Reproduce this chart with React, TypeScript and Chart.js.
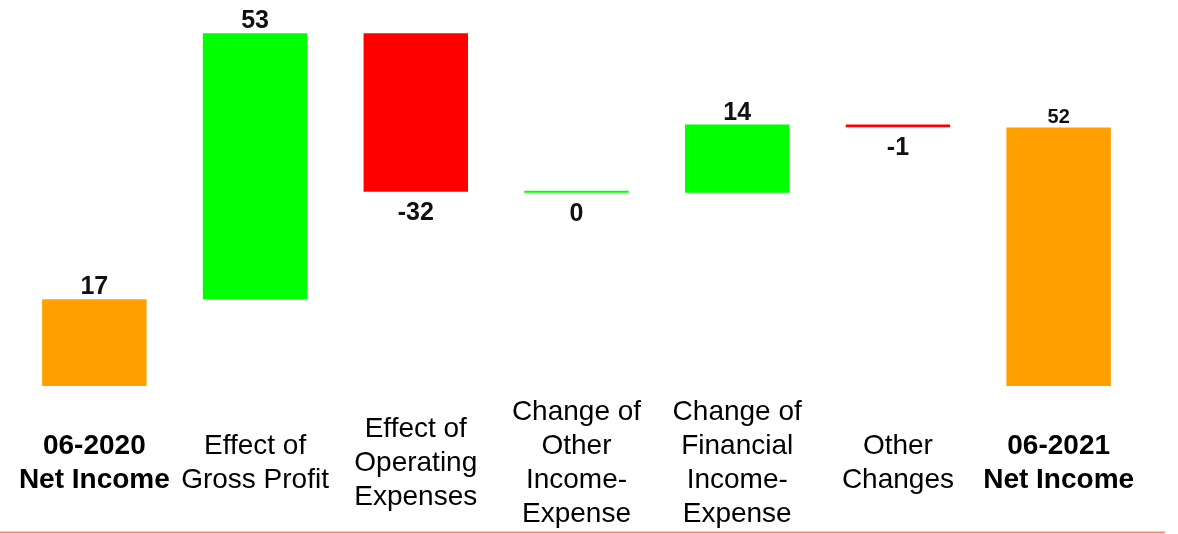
import React, { useEffect, useRef } from "react";
import { Chart, registerables } from "chart.js";

Chart.register(...registerables);

// Category captions (one entry per line of text)
const categories: string[][] = [
  ["06-2020", "Net Income"],
  ["Effect of", "Gross Profit"],
  ["Effect of", "Operating", "Expenses"],
  ["Change of", "Other", "Income-", "Expense"],
  ["Change of", "Financial", "Income-", "Expense"],
  ["Other", "Changes"],
  ["06-2021", "Net Income"],
];

// Net income bridge values
const openingNetIncome = 17.4;
const changes = [53.4, -31.8, -0.2, 13.7, -0.55];
const closingNetIncome = 51.9;

const yMin = 0;
const yMax = 77.5;

const TOTAL_COLOR = "#FFA000";
const UP_COLOR = "#00FF00";
const DOWN_COLOR = "#FF0000";
const FONT = "'Liberation Sans', Arial, Helvetica, sans-serif";

// Floating ranges for each bar, built from the running total
const ranges: [number, number][] = [];
const displayValues: number[] = [];
const kinds: ("total" | "up" | "down")[] = [];
{
  ranges.push([0, openingNetIncome]);
  displayValues.push(openingNetIncome);
  kinds.push("total");
  let running = openingNetIncome;
  for (const c of changes) {
    ranges.push([running, running + c]);
    displayValues.push(c);
    kinds.push(Math.round(c) >= 0 ? "up" : "down");
    running += c;
  }
  ranges.push([0, closingNetIncome]);
  displayValues.push(closingNetIncome);
  kinds.push("total");
}

const barColors = kinds.map((k) =>
  k === "total" ? TOTAL_COLOR : k === "up" ? UP_COLOR : DOWN_COLOR
);

const formatValue = (v: number) => {
  const r = Math.round(v);
  return (r === 0 ? 0 : r).toString();
};

// Value labels above rising/total bars, below falling/flat ones
const valueLabels = {
  id: "valueLabels",
  afterDatasetsDraw(chart: any) {
    const ctx = chart.ctx as CanvasRenderingContext2D;
    const meta = chart.getDatasetMeta(0);
    ctx.save();
    ctx.fillStyle = "#111";
    ctx.textAlign = "center";
    ctx.textBaseline = "alphabetic";
    meta.data.forEach((bar: any, i: number) => {
      const { x, y, base } = bar.getProps(["x", "y", "base"], true);
      const top = Math.min(y, base);
      const bottom = Math.max(y, base);
      const isClosing = i === meta.data.length - 1;
      const size = isClosing ? 20 : 25;
      ctx.font = `bold ${size}px ${FONT}`;
      const text = formatValue(displayValues[i]);
      const above = kinds[i] === "total" || Math.round(displayValues[i]) > 0;
      if (above) {
        ctx.fillText(text, x, top - 5);
      } else {
        ctx.fillText(text, x, bottom + 10 + size * 0.72);
      }
    });
    ctx.restore();
  },
};

// Category captions centred under each bar
const categoryCaptions = {
  id: "categoryCaptions",
  afterDraw(chart: any) {
    const ctx = chart.ctx as CanvasRenderingContext2D;
    const xScale = chart.scales.x;
    const centerY = 463;
    const lineHeight = 34;
    ctx.save();
    ctx.fillStyle = "#000";
    ctx.textAlign = "center";
    ctx.textBaseline = "middle";
    categories.forEach((lines, i) => {
      const x = xScale.getPixelForValue(i);
      const bold = kinds[i] === "total";
      ctx.font = `${bold ? "bold " : ""}28px ${FONT}`;
      lines.forEach((line, j) => {
        const yy = centerY + (j - (lines.length - 1) / 2) * lineHeight;
        ctx.fillText(line, x, yy);
      });
    });
    // bottom rule
    ctx.fillStyle = "#E8907A";
    ctx.fillRect(0, 531.5, 1165, 2);
    ctx.restore();
  },
};

export default function App() {
  const canvasRef = useRef<HTMLCanvasElement | null>(null);

  useEffect(() => {
    document.body.style.margin = "0";
    const canvas = canvasRef.current;
    if (!canvas) return;
    const chart = new Chart(canvas, {
      type: "bar",
      data: {
        labels: categories.map((c) => c.join(" ")),
        datasets: [
          {
            data: ranges as any,
            backgroundColor: barColors,
            borderWidth: 0,
            borderSkipped: false,
            barPercentage: 0.65,
            categoryPercentage: 1,
            minBarLength: 2,
          },
        ],
      },
      options: {
        animation: false,
        responsive: false,
        maintainAspectRatio: false,
        layout: { padding: { left: 14, right: 39, top: 0, bottom: 148 } },
        plugins: {
          legend: { display: false },
          tooltip: { enabled: false },
        },
        scales: {
          x: {
            display: false,
            grid: { display: false },
          },
          y: {
            display: false,
            min: yMin,
            max: yMax,
            grid: { display: false },
          },
        },
      },
      plugins: [valueLabels, categoryCaptions],
    });
    return () => chart.destroy();
  }, []);

  return (
    <div style={{ width: 1178, height: 534, background: "#fff" }}>
      <canvas ref={canvasRef} width={1178} height={534} style={{ display: "block" }} />
    </div>
  );
}
